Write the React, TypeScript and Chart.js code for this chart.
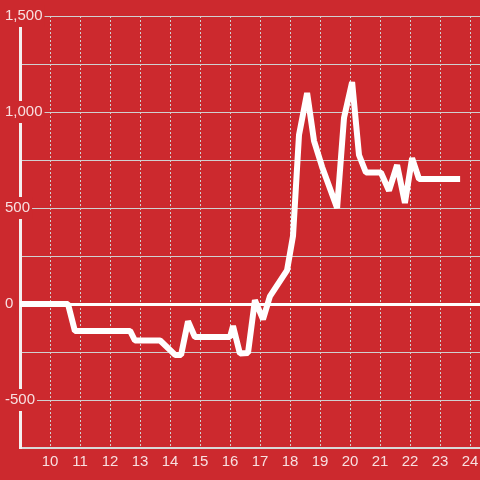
import React, { useEffect, useRef } from "react";
import { Chart, registerables } from "chart.js";

Chart.register(...registerables);

const BG = "#cc292e";

// decimal hour of each vertex, and its value
const hours = [8.9, 10.6, 10.83, 12.67, 12.83, 13.67, 14.17, 14.37, 14.6, 14.83, 16.0, 16.1, 16.33, 16.6, 16.83, 17.1, 17.33, 17.9, 18.1, 18.3, 18.57, 18.8, 19.07, 19.57, 19.8, 20.07, 20.3, 20.53, 21.03, 21.3, 21.57, 21.83, 22.07, 22.3, 23.67];
const values = [0, 0, -140, -140, -190, -190, -265, -265, -90, -172, -172, -115, -258, -255, 20, -80, 40, 175, 354, 880, 1099, 850, 714, 500, 969, 1156, 776, 685, 685, 590, 724, 526, 760, 651, 651];

const xMin = 9;
const xMax = 24.333;
const yMin = -750;
const yMax = 1500;
const yGridStep = 250;
const yLabelStep = 500;

export default function App() {
  const ref = useRef<HTMLCanvasElement>(null);
  useEffect(() => {
    if (!ref.current) return;
    const font = { family: "'Liberation Sans', Arial, sans-serif", size: 15 };
    const chart = new Chart(ref.current, {
      type: "line",
      data: {
        datasets: [
          {
            data: hours.map((h, i) => ({ x: h, y: values[i] })),
            borderColor: "#ffffff",
            borderWidth: 6,
            borderJoinStyle: "bevel",
            pointRadius: 0,
            tension: 0,
            fill: false,
          },
        ],
      },
      options: {
        animation: false,
        responsive: false,
        maintainAspectRatio: false,
        layout: { padding: { top: 16, left: 4, right: 0, bottom: 0 } },
        plugins: { legend: { display: false }, tooltip: { enabled: false } },
        scales: {
          x: {
            type: "linear",
            min: xMin,
            max: xMax,
            afterFit: (s: any) => {
              s.height = 32;
              s.paddingLeft = 0;
              s.paddingRight = 0;
            },
            ticks: {
              stepSize: 1,
              includeBounds: false,
              autoSkip: false,
              maxRotation: 0,
              padding: 5,
              color: "rgba(255,255,255,0.85)",
              font,
              callback: (v: any) => (Number.isInteger(v) && v >= 10 ? String(v) : null),
            },
            grid: { color: "#d0d0d0", lineWidth: 1, drawTicks: false },
            border: { display: true, color: "#d8d8d8", width: 2, dash: [2, 2] },
          },
          y: {
            type: "linear",
            min: yMin,
            max: yMax,
            afterFit: (s: any) => {
              s.width = 16;
              s.paddingTop = 0;
              s.paddingBottom = 0;
            },
            ticks: {
              stepSize: yGridStep,
              autoSkip: false,
              mirror: true,
              crossAlign: "near",
              padding: -15,
              color: "rgba(255,255,255,0.85)",
              font,
              showLabelBackdrop: true,
              backdropPadding: 2,
              backdropColor: (ctx: any) =>
                ctx.tick && ctx.tick.value % yLabelStep === 0 ? BG : "rgba(0,0,0,0)",
              callback: (v: any) =>
                v % yLabelStep === 0 ? Number(v).toLocaleString("en-US") : "",
            },
            grid: {
              drawTicks: false,
              color: (ctx: any) => (ctx.tick && ctx.tick.value === 0 ? "#ffffff" : "#d0d0d0"),
              lineWidth: (ctx: any) => (ctx.tick && ctx.tick.value === 0 ? 3 : 1),
            },
            border: { display: true, color: "#f4f0f0", width: 3 },
          },
        },
      },
    });
    return () => chart.destroy();
  }, []);
  return (
    <div style={{ position: "fixed", left: 0, top: 0, width: 480, height: 480, background: BG }}>
      <canvas ref={ref} width={480} height={480} style={{ width: 480, height: 480, display: "block" }} />
    </div>
  );
}
